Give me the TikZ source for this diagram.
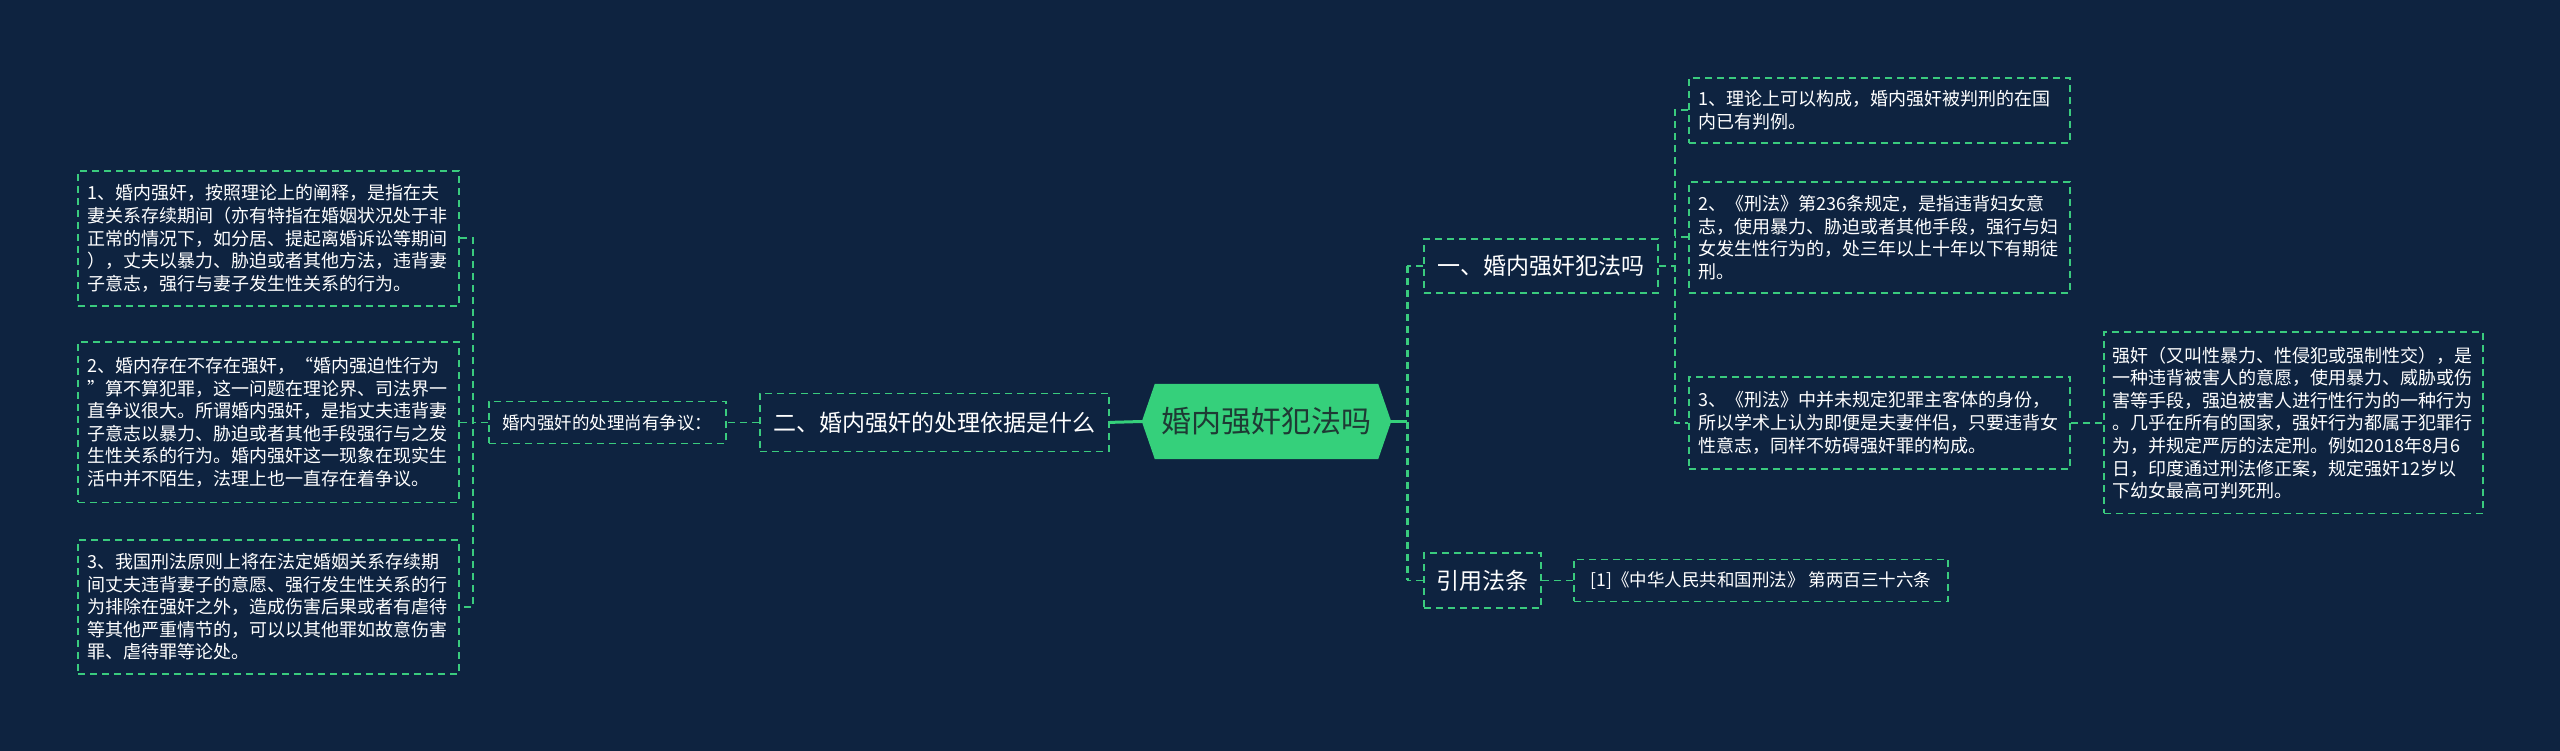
\documentclass[tikz,border=0pt]{standalone}
\usepackage{fontspec}
\setmainfont{Noto Sans CJK SC}
\usetikzlibrary{calc}
\definecolor{bgc}{HTML}{0E2340}
\definecolor{gr}{HTML}{3ACB7E}
\definecolor{hexfill}{HTML}{35D07B}
\definecolor{hextext}{HTML}{1E3A34}
\pgfdeclarelayer{bg}
\pgfdeclarelayer{background}
\pgfsetlayers{bg,background,main}
\begin{document}
\begin{tikzpicture}[x=1pt,y=-1pt,
  box/.style={draw=gr, line width=1.8pt, dash pattern=on 7pt off 5pt, text=white, anchor=north west},
  para/.style={box, align=left, inner xsep=9.5pt, inner ysep=3pt, font=\fontsize{18}{22.6}\selectfont},
  big/.style={box, inner sep=0pt, font=\fontsize{23}{28}\selectfont},
  small/.style={box, inner sep=0pt, font=\fontsize{17.5}{21}\selectfont},
  hexn/.style={inner sep=0pt, minimum width=249pt, minimum height=75pt, text=hextext, font=\fontsize{30}{36}\selectfont},
  link/.style={draw=gr, line width=1.8pt, dash pattern=on 7pt off 5pt},
  boldlink/.style={draw=gr, line width=2.8pt, dash pattern=on 7pt off 5pt},
  trunk/.style={draw=hexfill, line width=3pt},
]
\useasboundingbox (0,0) rectangle (2560,751);
\begin{pgfonlayer}{bg}
\fill[bgc] (0,0) rectangle (2560,751);
\end{pgfonlayer}

% center
\node[hexn] (hex) at (1266.5,421.5) {婚内强奸犯法吗};
\begin{pgfonlayer}{background}
\fill[hexfill] (hex.west) -- ($(hex.north west)+(13,0)$) -- ($(hex.north east)+(-13,0)$) -- (hex.east) -- ($(hex.south east)+(-13,0)$) -- ($(hex.south west)+(13,0)$) -- cycle;
\end{pgfonlayer}

% left side
\node[big, minimum width=349pt, minimum height=58pt] (mid) at (759,392.5) {二、婚内强奸的处理依据是什么};
\node[small, minimum width=237pt, minimum height=42pt] (disp) at (488,400.5) {婚内强奸的处理尚有争议：};

\node[para, text width=362pt, minimum height=135pt] (L1) at (77,170) {1、婚内强奸，按照理论上的阐释，是指在夫\\妻关系存续期间（亦有特指在婚姻状况处于非\\正常的情况下，如分居、提起离婚诉讼等期间\\），丈夫以暴力、胁迫或者其他方法，违背妻\\子意志，强行与妻子发生性关系的行为。};
\node[para, text width=362pt, minimum height=160pt] (L2) at (77,341.5) {2、婚内存在不存在强奸，“婚内强迫性行为\\”算不算犯罪，这一问题在理论界、司法界一\\直争议很大。所谓婚内强奸，是指丈夫违背妻\\子意志以暴力、胁迫或者其他手段强行与之发\\生性关系的行为。婚内强奸这一现象在现实生\\活中并不陌生，法理上也一直存在着争议。};
\node[para, text width=362pt, minimum height=134pt] (L3) at (77,539) {3、我国刑法原则上将在法定婚姻关系存续期\\间丈夫违背妻子的意愿、强行发生性关系的行\\为排除在强奸之外，造成伤害后果或者有虐待\\等其他严重情节的，可以以其他罪如故意伤害\\罪、虐待罪等论处。};

% right side
\node[big, minimum width=234pt, minimum height=54pt] (B1) at (1423,238) {一、婚内强奸犯法吗};
\node[big, minimum width=117pt, minimum height=55pt] (cite) at (1423,552) {引用法条};
\node[small, minimum width=374pt, minimum height=42pt] (ref) at (1573,558.5) {[1]《中华人民共和国刑法》 第两百三十六条};

\node[para, text width=362pt, minimum height=65pt] (R1) at (1688,77) {1、理论上可以构成，婚内强奸被判刑的在国\\内已有判例。};
\node[para, text width=362pt, minimum height=111pt] (R2) at (1688,181) {2、《刑法》第236条规定，是指违背妇女意\\志，使用暴力、胁迫或者其他手段，强行与妇\\女发生性行为的，处三年以上十年以下有期徒\\刑。};
\node[para, text width=362pt, minimum height=92pt] (R3) at (1688,376) {3、《刑法》中并未规定犯罪主客体的身份，\\所以学术上认为即便是夫妻伴侣，只要违背女\\性意志，同样不妨碍强奸罪的构成。};
\node[para, text width=361pt, inner xsep=9pt, minimum height=181pt] (FR) at (2103,331.5) {强奸（又叫性暴力、性侵犯或强制性交），是\\一种违背被害人的意愿，使用暴力、威胁或伤\\害等手段，强迫被害人进行性行为的一种行为\\。几乎在所有的国家，强奸行为都属于犯罪行\\为，并规定严厉的法定刑。例如2018年8月6\\日，印度通过刑法修正案，规定强奸12岁以\\下幼女最高可判死刑。};

% connectors left
\draw[trunk] (hex.west) -- (mid.east);
\draw[link] (mid.west) -- (disp.east);
\coordinate (lj) at ($(disp.west)+(-15,0)$);
\draw[link] (disp.west) -- (lj);
\draw[link] (L1.east) -| (lj) |- (L3.east);
\draw[link] (L2.east) -- (L2.east -| lj);

% connectors right
\coordinate (rj) at ($(hex.east)+(16,0)$);
\draw[trunk] (hex.east) -- (rj);
\draw[boldlink] (B1.west -| rj) -- (cite.west -| rj);
\draw[link] (B1.west) -- (B1.west -| rj);
\draw[link] (cite.west) -- (cite.west -| rj);
\coordinate (bj) at ($(B1.east)+(16,0)$);
\draw[link] (B1.east) -- (bj);
\draw[link] (R1.west) -| (bj) |- (R3.west);
\draw[link] (R2.west) -- (R2.west -| bj);
\draw[link] (R3.east) -- (FR.west);
\draw[link] (cite.east) -- (ref.west);
\end{tikzpicture}
\end{document}
